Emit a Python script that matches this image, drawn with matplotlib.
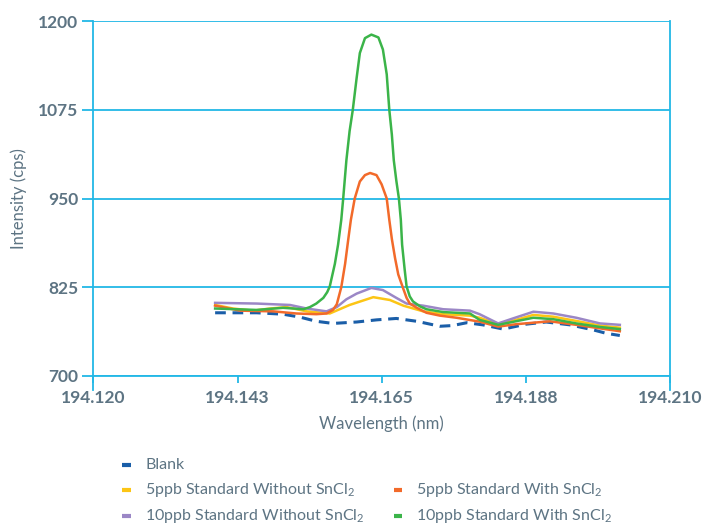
import numpy as np
import matplotlib
matplotlib.use('Agg')
import matplotlib.pyplot as plt
from matplotlib.lines import Line2D

plt.rcParams['font.family'] = ['Lato', 'DejaVu Sans']
plt.rcParams['mathtext.fontset'] = 'custom'
plt.rcParams['mathtext.rm'] = 'Lato'
plt.rcParams['mathtext.it'] = 'Lato:italic'
plt.rcParams['mathtext.bf'] = 'Lato:bold'

# data
blank_x = [194.1390, 194.1455, 194.1496, 194.1522, 194.1548, 194.1574, 194.1611, 194.1642,
           194.1673, 194.1705, 194.1741, 194.1761, 194.1783, 194.1808, 194.1840, 194.1876,
           194.1907, 194.1944, 194.1980, 194.2001, 194.2022]
blank_y = [789, 789, 787, 783, 777, 774, 776, 779, 781, 777, 770, 771, 775, 772, 766, 773,
           776, 772, 765, 760, 757]

y5_wo_x = [194.1390, 194.1418, 194.1449, 194.1476, 194.1502, 194.1533, 194.1569, 194.1600,
           194.1637, 194.1663, 194.1684, 194.1715, 194.1746, 194.1788, 194.1803, 194.1832,
           194.1850, 194.1887, 194.1918, 194.1954, 194.1991, 194.2022]
y5_wo_y = [800, 795, 792, 795, 797, 791, 788, 800, 811, 807, 799, 791, 787, 785, 782, 773,
           776.5, 786, 783.5, 777.5, 771, 768]

y5_w_x = [194.1390, 194.1429, 194.1481, 194.1517, 194.1548, 194.1564, 194.1574, 194.1580,
          194.1587, 194.1593, 194.1598, 194.1602, 194.1608, 194.1616, 194.1624, 194.1632,
          194.1642, 194.1650, 194.1658, 194.1662, 194.1666, 194.1671, 194.1676, 194.1683,
          194.1689, 194.1694, 194.1705, 194.1720, 194.1741, 194.1767, 194.1803, 194.1832,
          194.1861, 194.1913, 194.1954, 194.1991, 194.2022]
y5_w_y = [799, 792, 791, 788, 787, 788, 793, 801, 825, 858, 893, 920, 950, 974, 983, 986,
          983, 970, 950, 920, 893, 866, 843, 825, 810, 802, 796, 789, 785, 782, 776.5, 769.5,
          773, 777, 772, 767, 763]

y10_wo_x = [194.1390, 194.1455, 194.1507, 194.1533, 194.1564, 194.1580, 194.1595, 194.1611,
            194.1634, 194.1652, 194.1673, 194.1689, 194.1715, 194.1746, 194.1788, 194.1803,
            194.1832, 194.1855, 194.1887, 194.1918, 194.1954, 194.1991, 194.2022]
y10_wo_y = [803, 802, 800, 795, 791, 797, 808, 816, 824, 821, 810, 802, 799, 794, 792, 787,
            774, 781, 790.5, 788, 782, 774, 772]

y10_w_x = [194.1390, 194.1455, 194.1496, 194.1528, 194.1538, 194.1548, 194.1559, 194.1565,
           194.1569, 194.1577, 194.1582, 194.1587, 194.1590, 194.1595, 194.1600, 194.1605,
           194.1611, 194.1616, 194.1624, 194.1634, 194.1645, 194.1652, 194.1658, 194.1662,
           194.1666, 194.1669, 194.1673, 194.1677, 194.1680, 194.1682, 194.1686, 194.1689,
           194.1694, 194.1699, 194.1710, 194.1720, 194.1746, 194.1788, 194.1803, 194.1832,
           194.1887, 194.1918, 194.1954, 194.1991, 194.2022]
y10_w_y = [795, 793, 796, 794, 797, 802, 810, 818, 826, 858, 885, 920, 950, 1004, 1045, 1075,
           1120, 1155, 1176, 1181, 1177, 1160, 1125, 1075, 1040, 1004, 975, 950, 920, 885, 850,
           826, 812, 805, 798, 794, 790, 788, 779, 772, 782, 780, 774, 769, 766]

xticks = [194.120, 194.1425, 194.165, 194.1875, 194.210]
xtick_labels = ['194.120', '194.143', '194.165', '194.188', '194.210']
yticks = [700, 825, 950, 1075, 1200]

names = ['Blank', '5ppb Standard Without SnCl$_2$', '5ppb Standard With SnCl$_2$',
         '10ppb Standard Without SnCl$_2$', '10ppb Standard With SnCl$_2$']
colors = ['#1a5ea8', '#fcc515', '#f26a2a', '#9b87c6', '#3bb449']

grid_c = '#22b8e6'
text_c = '#5d7483'

fig = plt.figure(figsize=(7.08, 5.28), dpi=100)
ax = fig.add_axes([0.132, 0.288, 0.814, 0.672])

ax.plot(blank_x, blank_y, color=colors[0], lw=2.2, linestyle=(0, (3.5, 2.2)), zorder=3)
ax.plot(y5_wo_x, y5_wo_y, color=colors[1], lw=1.8, zorder=4)
ax.plot(y5_w_x, y5_w_y, color=colors[2], lw=1.8, zorder=5)
ax.plot(y10_wo_x, y10_wo_y, color=colors[3], lw=1.8, zorder=4)
ax.plot(y10_w_x, y10_w_y, color=colors[4], lw=1.8, zorder=5)

ax.set_xlim(194.120, 194.210)
ax.set_ylim(700, 1200)
ax.set_xticks(xticks)
ax.set_xticklabels(xtick_labels)
ax.set_yticks(yticks)
ax.yaxis.grid(True, color=grid_c, lw=1.3)
ax.set_axisbelow(True)
for s in ['left', 'right', 'bottom']:
    ax.spines[s].set_color(grid_c)
    ax.spines[s].set_linewidth(1.3)
ax.spines['top'].set_visible(False)
ax.tick_params(axis='y', colors=grid_c, length=8, width=1.3, labelcolor=text_c, labelsize=12.5, pad=3)
ax.tick_params(axis='x', colors=grid_c, length=5, width=1.3, labelcolor=text_c, labelsize=12.5, pad=5)
for lab in ax.get_xticklabels() + ax.get_yticklabels():
    lab.set_fontweight('bold')
# left/right axis lines run a little below the plot
for xv in [194.120, 194.210]:
    ax.axvline(xv, ymin=-0.04, ymax=0, color=grid_c, lw=1.3, clip_on=False)

ax.set_ylabel('Intensity (cps)', color=text_c, fontsize=12, labelpad=8)
ax.set_xlabel('Wavelength (nm)', color=text_c, fontsize=12, labelpad=7)

# legend
rows = [0.119, 0.072, 0.023]
pos = [(0, 0), (1, 0), (1, 1), (2, 0), (2, 1)]
for i, (r, c) in enumerate(pos):
    mx = 0.179 if c == 0 else 0.562
    fig.add_artist(Line2D([mx - 0.006, mx + 0.006], [rows[r], rows[r]], color=colors[i],
                          lw=3, solid_capstyle='butt', transform=fig.transFigure))
    fig.text(mx + 0.026, rows[r], names[i], color=text_c, fontsize=11.5, va='center')

fig.savefig('out.png', dpi=100)
